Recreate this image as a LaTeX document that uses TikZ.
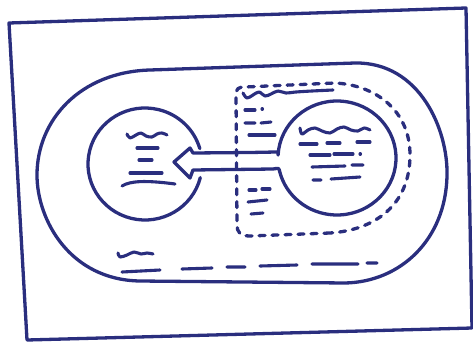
\documentclass[tikz,border=0pt]{standalone}
\usetikzlibrary{calc}
\definecolor{ink}{RGB}{42,46,126}
\tikzset{
  pen/.style={draw=ink, line width=3.3pt, line cap=round, line join=round},
  scribble/.style={draw=ink, line width=3.1pt, line cap=round, line join=round},
  dashedge/.style={pen, dash pattern=on 6pt off 7pt},
}
\begin{document}
\begin{tikzpicture}[x=1pt,y=-1pt]
\useasboundingbox (0,0) rectangle (473,345);
% paper
\draw[pen] (9,23) -- (466,8) -- (472,328) -- (27,340) -- cycle;
% stadium
\draw[pen] (150,70) -- (355,63)
  .. controls (420,62) and (448,130) .. (447,175)
  .. controls (446,240) and (400,282) .. (345,283)
  -- (140,281)
  .. controls (70,280) and (37,220) .. (37,175)
  .. controls (37,120) and (80,72) .. cycle;
% dashed region
\draw[dashedge] (330,233) -- (250,236) .. controls (240,236) and (237,232) .. (237,225)
  -- (236,95) .. controls (236,89) and (238,87) .. (245,87)
  -- (335,83) .. controls (375,85) and (410,110) .. (410,155)
  .. controls (410,205) and (375,230) .. (330,233);
% heading scribble in dashed region
\draw[scribble] plot[smooth, tension=0.6] coordinates {
 (243,93) (247,98) (253,95) (259,92) (265,96) (271,94) (278,91) (286,93) (296,92) (312,91) (333,90)};
% left column scribbles
\draw[scribble] (245,110) -- (255,110) (262,109) -- (262.5,109);
\draw[scribble] (245,123) -- (255,123) (261,123) -- (271,122);
\draw[scribble] (249,135) -- (275,135);
\draw[scribble] (249,190) -- (256,190) (262,189) -- (270,189);
\draw[scribble] (248,202) -- (267,200);
\draw[scribble] (251,214) -- (263,213);
% left circle (broken where the arrow passes)
\draw[pen] (145,164) ++(14:57 and 56) arc[start angle=14, end angle=344, x radius=57, y radius=56];
% left circle scribbles
\draw[scribble] plot[smooth, tension=0.6] coordinates {
 (127,134) (130,138) (136,135) (141,133) (146,136) (152,137) (157,134) (162,133) (167,135)};
\draw[scribble] (137,148) -- (158,148);
\draw[scribble] (139,160) -- (152,160);
\draw[scribble] (130,173) -- (162,173);
\draw[scribble] (122,186) .. controls (130,181) and (145,180) .. (175,184);
% right circle with the arrow
\draw[pen] (193,153) -- (250,152.5) -- (276,152)
  .. controls (278,152) .. ($(337,158)+(183:59 and 57)$)
  arc[start angle=183, end angle=526, x radius=59, y radius=57]
  .. controls (279,168) .. (273,169) -- (193,170)
  -- (190,178) -- (174,162) -- (190,148) -- cycle;
% right circle scribbles
\draw[scribble] plot[smooth, tension=0.6] coordinates {
 (300,128) (302,134) (308,130) (315,128) (322,131) (330,133) (337,129) (344,127) (351,130) (358,131) (364,128) (370,130)};
\draw[scribble] (300,144) -- (317,144) (327,143) -- (340,143) (357,142) -- (370,142);
\draw[scribble] (310,155) -- (330,155) (334,154) -- (353,154) (360,154) -- (360.5,154);
\draw[scribble] (312,167) -- (345,166) (352,165) -- (363,165);
\draw[scribble] (313,180) -- (321,180) (331,179) -- (360,177);
% bottom scribbles
\draw[scribble] plot[smooth, tension=0.6] coordinates {
 (118,253) (120,257) (127,255) (134,252) (141,254) (147,253) (153,254)};
\draw[scribble] (122,272) -- (160,270) (182,269) -- (212,268) (227,267) -- (245,267)
  (260,266) -- (297,265) (312,264) -- (358,264) (367,263) -- (377,263);
\end{tikzpicture}
\end{document}
